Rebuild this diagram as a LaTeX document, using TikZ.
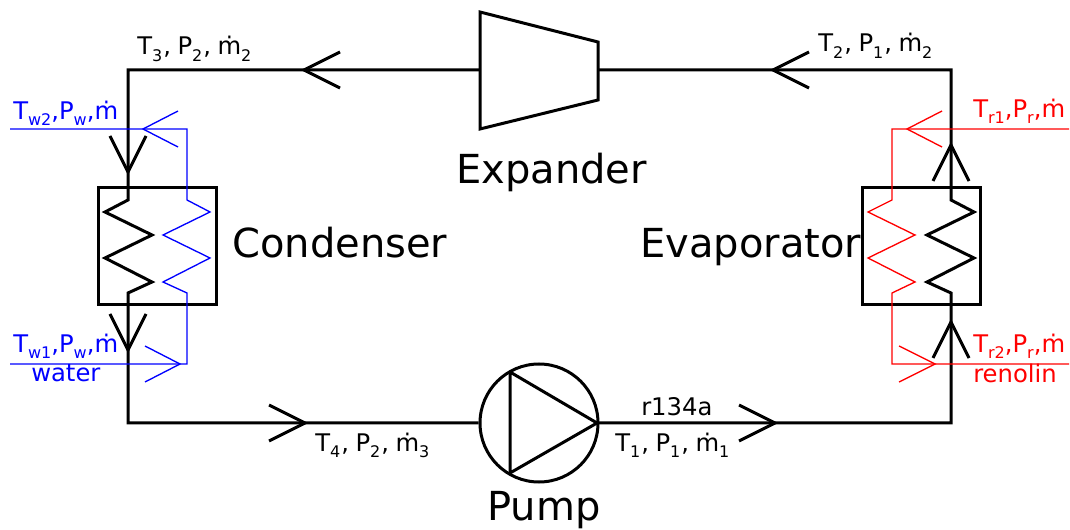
\documentclass[tikz,border=0pt]{standalone}
\usepackage{fontspec}
\setmainfont{DejaVu Sans}
\newcommand{\sbs}[1]{\raisebox{-0.28em}{\fontsize{12}{13}\selectfont #1}}
\newcommand{\sbw}[1]{\raisebox{-0.21em}{\fontsize{12}{13}\selectfont #1}}
\newcommand{\mdt}{ṁ}
\newcommand{\cma}{\hspace{0.75pt},\hspace{4.9pt}}
\tikzset{
  x=0.75pt,y=-0.75pt,
  pipe/.style={draw=black,line width=2.25pt,line join=miter},
  water/.style={draw=blue,line width=1pt},
  oil/.style={draw=red,line width=1pt},
  equip/.style={draw=black,line width=2.25pt,inner sep=0pt,minimum width=88.5pt,minimum height=87.75pt},
  pumpc/.style={draw=black,circle,line width=2.25pt,inner sep=0pt,minimum size=88.5pt},
  lab/.style={anchor=base west,inner sep=0pt,font=\fontsize{18.2}{20}\selectfont},
  big/.style={anchor=base west,inner sep=0pt,font=\fontsize{30}{34}\selectfont},
}
\begin{document}
\begin{tikzpicture}
\useasboundingbox (0,0) rectangle (1070,530);
% equipment
\node[equip] (cond) at (157.5,246.5) {};
\node[equip] (evap) at (921,246.5) {};
\node[pumpc] (pump) at (539,423) {};
\coordinate (e1) at (480,12);
\coordinate (e2) at (598,42);
\coordinate (e3) at (598,100);
\coordinate (e4) at (480,129);
\draw[pipe] (e1) -- (e2) -- (e3) -- (e4) -- cycle;
\coordinate (p1) at (510,372);
\coordinate (p2) at (597,423);
\coordinate (p3) at (510,473);
\draw[pipe,line join=round] (p1) -- (p2) -- (p3) -- cycle;
% loop corners
\coordinate (ctl) at (128,70);
\coordinate (ctr) at (951,70);
\coordinate (cbl) at (128,423);
\coordinate (cbr) at (951,423);
\coordinate (ein) at (598,70);
\coordinate (eout) at (480,70);
% condenser
\coordinate (c1) at (128,200);
\coordinate (c2) at (128,293);
\draw[pipe] (eout) -- (ctl) -- (c1) -- (105,212) -- (152,235) -- (105,258) -- (152,282) -- (c2) -- (cbl) -- (pump.west);
% evaporator
\coordinate (v1) at (951,200);
\coordinate (v2) at (951,293);
\draw[pipe] (p2) -- (cbr) -- (v2) -- (927,282) -- (974,258) -- (927,235) -- (974,212) -- (v1) -- (ctr) -- (ein);
% black arrows
\draw[pipe] (340,52) -- (304,70) -- (340,88);
\draw[pipe] (809,52) -- (773,70) -- (809,88);
\draw[pipe] (269,405) -- (305,423) -- (269,441);
\draw[pipe] (739,405) -- (775,423) -- (739,441);
\draw[pipe] (110,136) -- (128,172) -- (146,136);
\draw[pipe] (110,314) -- (128,350) -- (146,314);
\draw[pipe] (933,181) -- (951,145) -- (969,181);
\draw[pipe] (933,358) -- (951,322) -- (969,358);
% water
\coordinate (wa) at (10,129);
\coordinate (wb) at (10,364);
\draw[water] (wa) -- (187,129) -- (187,200) -- (210,212) -- (163,235) -- (210,258) -- (163,282) -- (187,293) -- (187,364) -- (wb);
\draw[water] (178,111) -- (143,129) -- (178,147);
\draw[water] (145,346) -- (180,364) -- (145,382);
% oil
\coordinate (ra) at (1069,129);
\coordinate (rb) at (1069,364);
\draw[oil] (ra) -- (892,129) -- (892,200) -- (868,212) -- (915,235) -- (868,258) -- (915,282) -- (892,293) -- (892,364) -- (rb);
\draw[oil] (942,111) -- (907,129) -- (942,147);
\draw[oil] (899,346) -- (935,364) -- (899,382);
% labels
\node[lab] (l3) at (137,55) {T\sbs{3}\cma P\sbs{2}\cma\mdt\sbs{2}};
\node[lab] (l2) at (818,52) {T\sbs{2}\cma P\sbs{1}\cma\mdt\sbs{2}};
\node[lab] (l4) at (315,451) {T\sbs{4}\cma P\sbs{2}\cma\mdt\sbs{3}};
\node[lab] (l1) at (615,451) {T\sbs{1}\cma P\sbs{1}\cma\mdt\sbs{1}};
\node[lab] (lr) at (641,416) {r134a};
\node[lab,text=blue] (lw2) at (13,120) {T\sbw{w2},P\sbw{w},\mdt};
\node[lab,text=blue] (lw1) at (13,353) {T\sbw{w1},P\sbw{w},\mdt};
\node[lab,text=blue] (lw) at (31,382) {water};
\node[lab,text=red] (lr1) at (973,118) {T\sbw{r1},P\sbw{r},\mdt};
\node[lab,text=red] (lr2) at (973,353) {T\sbw{r2},P\sbw{r},\mdt};
\node[lab,text=red] (lro) at (973,383) {renolin};
\node[big] (nexp) at (456,184) {Expander};
\node[big] (ncon) at (232,258) {Condenser};
\node[big] (neva) at (640,258) {Evaporator};
\node[big] (npum) at (487,520.5) {Pump};
\end{tikzpicture}
\end{document}
